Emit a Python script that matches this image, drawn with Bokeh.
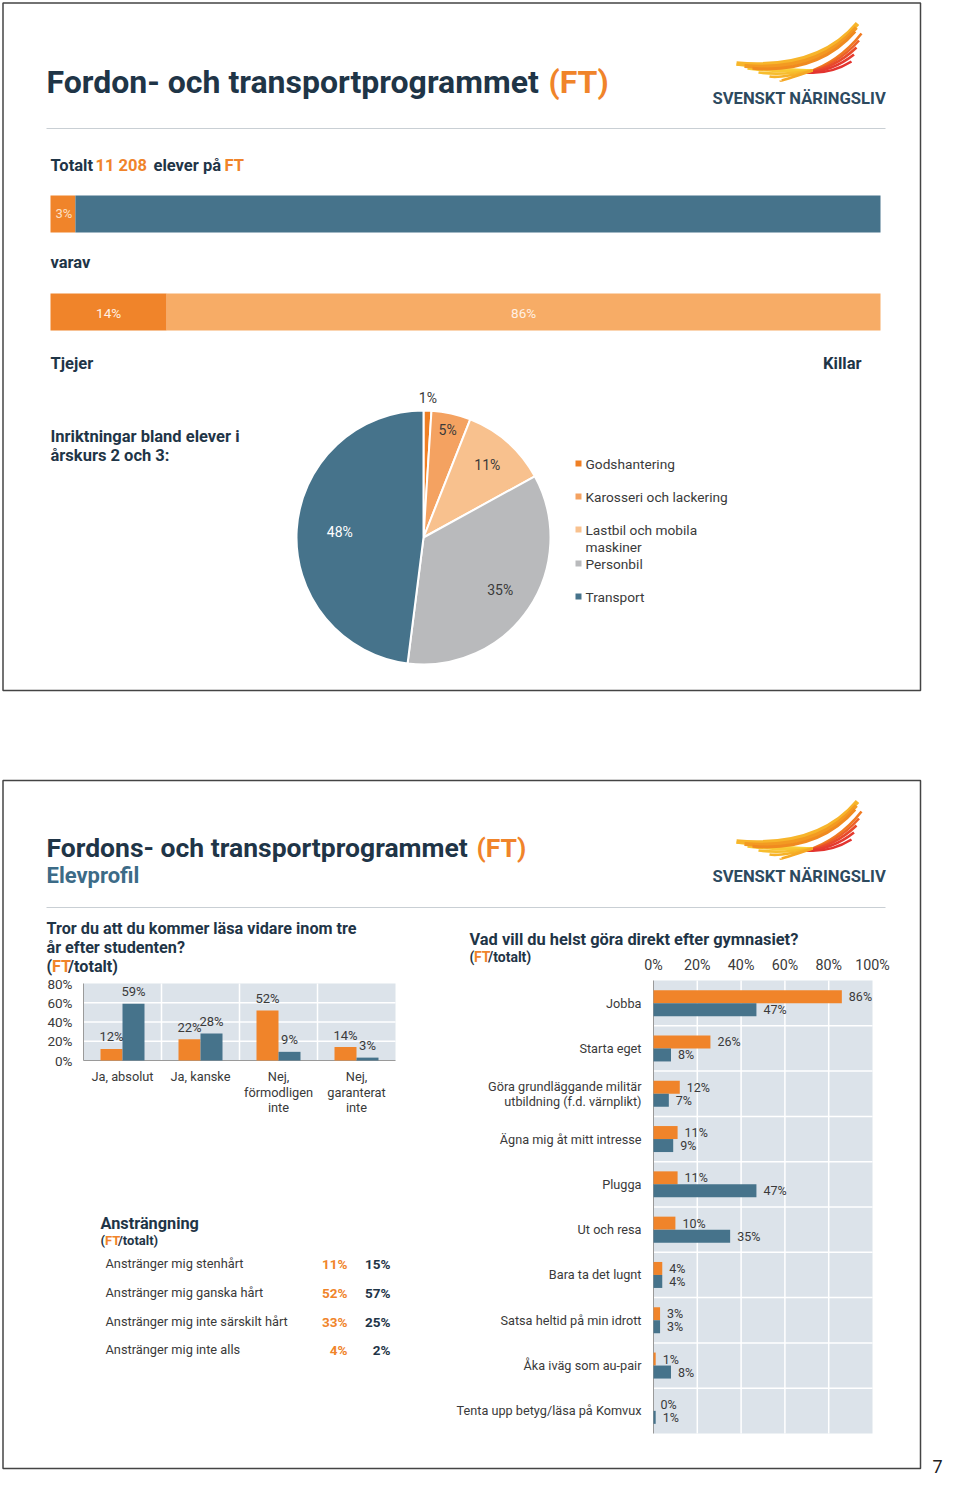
import math
from math import pi
from bokeh.plotting import figure
from bokeh.models import Range1d
from bokeh.embed import file_html
from bokeh.resources import INLINE
from bokeh.core.properties import value

# ---------------- data ----------------
total_share_labels = ["FT", "Övriga"]
total_share = [3, 97]
gender_labels = ["Tjejer", "Killar"]
gender_share = [14, 86]
pie_labels = ["Godshantering", "Karosseri och lackering", "Lastbil och mobila\nmaskiner", "Personbil", "Transport"]
pie_values = [1, 5, 11, 35, 48]
study_cats = ["Ja, absolut", "Ja, kanske", "Nej,\nförmodligen\ninte", "Nej,\ngaranterat\ninte"]
study_ft = [12, 22, 52, 14]
study_tot = [59, 28, 9, 3]
study_ticks = [0, 20, 40, 60, 80]
after_cats = ["Jobba", "Starta eget", "Göra grundläggande militär\nutbildning (f.d. värnplikt)",
              "Ägna mig åt mitt intresse", "Plugga", "Ut och resa", "Bara ta det lugnt",
              "Satsa heltid på min idrott", "Åka iväg som au-pair", "Tenta upp betyg/läsa på Komvux"]
after_ft = [86, 26, 12, 11, 11, 10, 4, 3, 1, 0]
after_tot = [47, 8, 7, 9, 47, 35, 4, 3, 8, 1]
after_ticks = [0, 20, 40, 60, 80, 100]
effort_labels = ["Anstränger mig stenhårt", "Anstränger mig ganska hårt",
                 "Anstränger mig inte särskilt hårt", "Anstränger mig inte alls"]
effort_ft = [11, 52, 33, 4]
effort_tot = [15, 57, 25, 2]

# ---------------- style ----------------
ORANGE = "#f0842a"
ORANGE_L = "#f7ac66"
BLUE = "#46738b"
NAVY = "#1f3547"
DARK = "#3a3a3a"
BG = "#dce3ea"
FONT = "Roboto"
pie_colors = ["#ef7f24", "#f4a261", "#f8c18e", "#b9babc", "#46738b"]

W, H = 944, 1479
p = figure(width=W, height=H, x_range=Range1d(0, W), y_range=Range1d(0, H),
           output_backend="svg", toolbar_location=None, x_axis_location=None,
           y_axis_location=None, min_border=0, outline_line_color=None)
p.grid.visible = False
p.background_fill_color = "white"
p.border_fill_color = "white"


def Y(v):
    return H - v


def T(x, y, s, size, color=DARK, bold=False, align="left"):
    p.text(x=[x], y=[Y(y)], text=[s], text_font=value(FONT), text_font_size=f"{size}px",
           text_color=color, text_align=align, text_baseline="middle",
           text_font_style="bold" if bold else "normal")


def logo(dy):
    # red feathers on the right
    reds = ["#f07a22", "#ec6127", "#e84a2b", "#e53b2f", "#e3342f"]
    for k, c in enumerate(reds):
        p.quadratic(x0=[806], y0=[Y(72 + dy)], x1=[861 - 2.5 * k], y1=[Y(33 + 7 * k + dy)],
                    cx=[838 - 2 * k], cy=[Y(62 + 3 * k + dy)], line_color=c, line_width=2.6)
    # yellow feathers on the left
    yel = ["#f9d23c", "#f8c834", "#f7bd2e", "#f6b229", "#f5a825"]
    for k, c in enumerate(yel):
        p.quadratic(x0=[812], y0=[Y(70 + dy)], x1=[736 + 11 * k], y1=[Y(64 + 4 * k + dy)],
                    cx=[780], cy=[Y(69 + 3 * k + dy)], line_color=c, line_width=2.6)
    # main swoosh
    body = [("#f7b52b", 4.5, 0), ("#f39a22", 4.0, 4), ("#f08a20", 3.0, 8)]
    for c, w, o in body:
        p.quadratic(x0=[736 + o * 2], y0=[Y(63 + o * 0.6 + dy)], x1=[857 - o * 0.3], y1=[Y(23 + o + dy)],
                    cx=[818], cy=[Y(70 + o * 0.4 + dy)], line_color=c, line_width=w)
    T(712, 98 + dy, "SVENSKT NÄRINGSLIV", 16.6, "#2d4a5f", True)


# ---------------- slide 1 ----------------
p.quad(left=2.5, right=920, top=Y(2.5), bottom=Y(690), fill_color=None, line_color="#444444", line_width=1.5)
T(46, 81, "Fordon- och transportprogrammet", 32, NAVY, True)
T(548, 81, "(FT)", 32, ORANGE, True)
logo(0)
p.segment(x0=[46], y0=[Y(128)], x1=[885], y1=[Y(128)], line_color="#c9cfd4", line_width=1)

T(50, 165, "Totalt", 16.5, NAVY, True)
T(95, 165, "11 208", 16.5, ORANGE, True)
T(153, 165, "elever på", 16.5, NAVY, True)
T(224, 165, "FT", 16.5, ORANGE, True)

# total bar
BX0, BX1 = 50, 880
sc = (BX1 - BX0) / 100
lefts, acc = [], 0
for v in total_share:
    lefts.append(BX0 + acc * sc)
    acc += v
p.quad(left=lefts, right=[l + v * sc for l, v in zip(lefts, total_share)],
       top=Y(195), bottom=Y(232), fill_color=[ORANGE, BLUE], line_color=None)
T(lefts[0] + total_share[0] * sc / 2 + 1, 213, f"{total_share[0]}%", 13, "#fde0c5", align="center")

T(50, 262, "varav", 16.5, NAVY, True)

# gender bar
lefts, acc = [], 0
for v in gender_share:
    lefts.append(BX0 + acc * sc)
    acc += v
p.quad(left=lefts, right=[l + v * sc for l, v in zip(lefts, gender_share)],
       top=Y(293), bottom=Y(330), fill_color=[ORANGE, ORANGE_L], line_color=None)
for l, v in zip(lefts, gender_share):
    T(l + v * sc / 2, 312, f"{v}%", 13.5, "#fff1e4", align="center")
T(50, 363, gender_labels[0], 16.5, NAVY, True)
T(861, 363, gender_labels[1], 16.5, NAVY, True, align="right")

T(50, 436, "Inriktningar bland elever i", 16.5, NAVY, True)
T(50, 455, "årskurs 2 och 3:", 16.5, NAVY, True)

# pie
PCX, PCY, PR = 423, 537, 127
tot = sum(pie_values)
starts, ends, mids, acc = [], [], [], 0
for v in pie_values:
    starts.append(pi / 2 - 2 * pi * acc / tot)
    mids.append(pi / 2 - 2 * pi * (acc + v / 2) / tot)
    acc += v
    ends.append(pi / 2 - 2 * pi * acc / tot)
p.wedge(x=PCX, y=Y(PCY), radius=PR, start_angle=starts, end_angle=ends, direction="clock",
        fill_color=pie_colors, line_color="white", line_width=2)
lab_r = [1.1, 0.87, 0.76, 0.73, 0.66]
lab_c = [DARK, DARK, DARK, DARK, "white"]
for v, a, r, c in zip(pie_values, mids, lab_r, lab_c):
    T(PCX + PR * r * math.cos(a), PCY - PR * r * math.sin(a), f"{v}%", 14, c, align="center")

# legend
leg_y = [463, 496, 529, 563, 596]
for lab, c, ly in zip(pie_labels, pie_colors, leg_y):
    p.quad(left=575, right=581, top=Y(ly - 3), bottom=Y(ly + 3), fill_color=c, line_color=None)
    for k, line in enumerate(lab.split("\n")):
        T(585, ly + 17 * k, line, 13.7, DARK)

# ---------------- slide 2 ----------------
p.quad(left=2.5, right=920, top=Y(780), bottom=Y(1468), fill_color=None, line_color="#444444", line_width=1.5)
T(46, 847, "Fordons- och transportprogrammet", 26.5, NAVY, True)
T(476, 847, "(FT)", 26.5, ORANGE, True)
T(46, 875, "Elevprofil", 22, "#3c6b87", True)
logo(778)
p.segment(x0=[46], y0=[Y(907)], x1=[885], y1=[Y(907)], line_color="#c9cfd4", line_width=1)

T(46, 928, "Tror du att du kommer läsa vidare inom tre", 16.2, NAVY, True)
T(46, 947, "år efter studenten?", 16.2, NAVY, True)
T(46, 966, "(", 16.2, NAVY, True)
T(51.5, 966, "FT", 16.2, ORANGE, True)
T(67.5, 966, "/totalt)", 16.2, NAVY, True)

# vertical bar chart
VX0, VX1, VY0 = 83, 395, 1060
VPX = 77 / 80
ncat = len(study_cats)
cw = (VX1 - VX0) / ncat
vc = [VX0 + cw * (i + 0.5) for i in range(ncat)]
p.quad(left=VX0, right=VX1, top=Y(VY0 - max(study_ticks) * VPX), bottom=Y(VY0), fill_color=BG, line_color=None)
for t in study_ticks[1:-1]:
    p.segment(x0=[VX0], y0=[Y(VY0 - t * VPX)], x1=[VX1], y1=[Y(VY0 - t * VPX)], line_color="white", line_width=1.5)
for i in range(1, ncat):
    p.segment(x0=[VX0 + cw * i], y0=[Y(VY0)], x1=[VX0 + cw * i], y1=[Y(VY0 - 80 * VPX)], line_color="white", line_width=1.5)
p.segment(x0=[VX0, VX0], y0=[Y(VY0), Y(VY0)], x1=[VX1, VX0], y1=[Y(VY0), Y(VY0 - 80 * VPX)],
          line_color="#9a9a9a", line_width=1)
p.quad(left=[c - 22 for c in vc], right=vc, top=[Y(VY0 - v * VPX) for v in study_ft], bottom=Y(VY0),
       fill_color=ORANGE, line_color=None)
p.quad(left=vc, right=[c + 22 for c in vc], top=[Y(VY0 - v * VPX) for v in study_tot], bottom=Y(VY0),
       fill_color=BLUE, line_color=None)
for c, v in zip(vc, study_ft):
    T(c - 11, VY0 - v * VPX - 12, f"{v}%", 13, DARK, align="center")
for c, v in zip(vc, study_tot):
    T(c + 11, VY0 - v * VPX - 12, f"{v}%", 13, DARK, align="center")
for t in study_ticks:
    T(72, VY0 - t * VPX, f"{t}%", 13.5, DARK, align="right")
for c, lab in zip(vc, study_cats):
    for k, line in enumerate(lab.split("\n")):
        T(c, 1076 + 15.5 * k, line, 12.8, DARK, align="center")

# effort table
T(100, 1223, "Ansträngning", 16.3, NAVY, True)
T(100, 1240, "(", 13, NAVY, True)
T(104.5, 1240, "FT", 13, ORANGE, True)
T(117.5, 1240, "/totalt)", 13, NAVY, True)
row_y = [1263, 1292, 1321, 1349]
for ry, lab, a, b in zip(row_y, effort_labels, effort_ft, effort_tot):
    T(105, ry, lab, 12.8, DARK)
    T(347, ry, f"{a}%", 13.5, ORANGE, True, align="right")
    T(390, ry, f"{b}%", 13.5, NAVY, True, align="right")

# horizontal bar chart
T(469, 939, "Vad vill du helst göra direkt efter gymnasiet?", 16.4, NAVY, True)
T(469, 956, "(", 14, NAVY, True)
T(473.5, 956, "FT", 14, ORANGE, True)
T(487.5, 956, "/totalt)", 14, NAVY, True)
HX0, HPX, HY0, CH = 653, 2.19, 980, 45.3
n = len(after_cats)
p.quad(left=HX0, right=HX0 + max(after_ticks) * HPX, top=Y(HY0), bottom=Y(HY0 + n * CH), fill_color=BG, line_color=None)
for t in after_ticks[1:-1]:
    p.segment(x0=[HX0 + t * HPX], y0=[Y(HY0)], x1=[HX0 + t * HPX], y1=[Y(HY0 + n * CH)], line_color="white", line_width=1.5)
for i in range(1, n):
    p.segment(x0=[HX0], y0=[Y(HY0 + i * CH)], x1=[HX0 + 100 * HPX], y1=[Y(HY0 + i * CH)], line_color="white", line_width=1.5)
p.segment(x0=[HX0], y0=[Y(HY0)], x1=[HX0], y1=[Y(HY0 + n * CH)], line_color="#9a9a9a", line_width=1)
hc = [HY0 + CH * (i + 0.5) for i in range(n)]
p.quad(left=HX0, right=[HX0 + v * HPX for v in after_ft], top=[Y(c - 13) for c in hc], bottom=[Y(c) for c in hc],
       fill_color=ORANGE, line_color=None)
p.quad(left=HX0, right=[HX0 + v * HPX for v in after_tot], top=[Y(c) for c in hc], bottom=[Y(c + 13) for c in hc],
       fill_color=BLUE, line_color=None)
for c, a, b, lab in zip(hc, after_ft, after_tot, after_cats):
    T(HX0 + a * HPX + 7, c - 6.5, f"{a}%", 12.5, DARK)
    T(HX0 + b * HPX + 7, c + 6.5, f"{b}%", 12.5, DARK)
    lines = lab.split("\n")
    for k, line in enumerate(lines):
        T(641, c + 15 * (k - (len(lines) - 1) / 2), line, 12.7, DARK, align="right")
for t in after_ticks:
    T(HX0 + t * HPX, 964, f"{t}%", 14.3, DARK, align="center")

T(942, 1466, "7", 18, "#222222", align="right")

open("out.html", "w").write(file_html(p, INLINE))
